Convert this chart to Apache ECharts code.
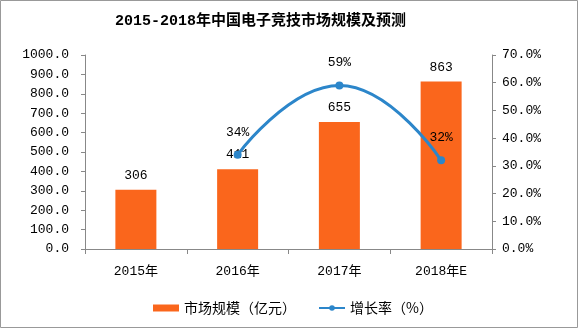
<!DOCTYPE html>
<html><head><meta charset="utf-8">
<script src="https://cdn.jsdelivr.net/npm/echarts@6/dist/echarts.min.js"></script>
<style>html,body{margin:0;padding:0;background:#fff}#c{width:578px;height:328px}</style>
</head><body><div id="c"></div>
<script>
const categories = ['2015年','2016年','2017年','2018年E'];
const marketSize = [306, 411, 655, 863];
const growthRate = [null, 34, 59, 32];
const titleText = '2015-2018年中国电子竞技市场规模及预测';
const seriesNames = ['市场规模（亿元）','增长率（%）'];

const FONT = '"Liberation Mono","Noto Sans CJK SC",monospace';
const chart = echarts.init(document.getElementById('c'));
chart.setOption({
  animation:false,
  textStyle:{fontFamily:FONT},
  title:{text:titleText,left:110,top:9,textStyle:{fontSize:15,fontWeight:'bold',color:'#000',fontFamily:FONT}},
  graphic:[{type:'rect',shape:{x:0.5,y:0.5,width:577,height:327},style:{fill:'none',stroke:'#999',lineWidth:1}}],
  grid:{left:85,right:86,top:55,bottom:79},
  legend:{bottom:8,left:148,itemGap:22,textStyle:{fontSize:14,color:'#000',fontFamily:'"Noto Sans CJK SC",sans-serif'},
    data:[{name:seriesNames[0],icon:'rect'},{name:seriesNames[1]}],itemWidth:26,itemHeight:7},
  xAxis:{type:'category',data:categories,
    axisLine:{lineStyle:{color:'#888'}},axisTick:{show:true,alignWithLabel:false,length:5,lineStyle:{color:'#888'}},
    axisLabel:{color:'#000',fontSize:13,margin:16,fontFamily:FONT}},
  yAxis:[
    {type:'value',min:0,max:1000,interval:100,splitLine:{show:false},
     axisLine:{show:true,lineStyle:{color:'#888'}},axisTick:{show:true,length:4,lineStyle:{color:'#888'}},
     axisLabel:{color:'#000',fontSize:13,margin:16,formatter:v=>v.toFixed(1),fontFamily:FONT}},
    {type:'value',min:0,max:70,interval:10,splitLine:{show:false},
     axisLine:{show:true,lineStyle:{color:'#888'}},axisTick:{show:true,length:4,lineStyle:{color:'#888'}},
     axisLabel:{color:'#000',fontSize:13,margin:10,formatter:v=>v.toFixed(1)+'%',fontFamily:FONT}}
  ],
  series:[
    {name:seriesNames[0],type:'bar',data:marketSize,barWidth:41,itemStyle:{color:'#FA661C'},
     label:{show:true,position:'top',distance:8,color:'#000',fontSize:13,fontFamily:FONT}},
    {name:seriesNames[1],type:'line',yAxisIndex:1,data:growthRate,smooth:0.5,
     symbol:'circle',symbolSize:8,lineStyle:{color:'#2C86CA',width:3},itemStyle:{color:'#2C86CA'},
     label:{show:true,position:'top',distance:12,color:'#000',fontSize:13,formatter:p=>p.value+'%',fontFamily:FONT}}
  ]
});
</script></body></html>
